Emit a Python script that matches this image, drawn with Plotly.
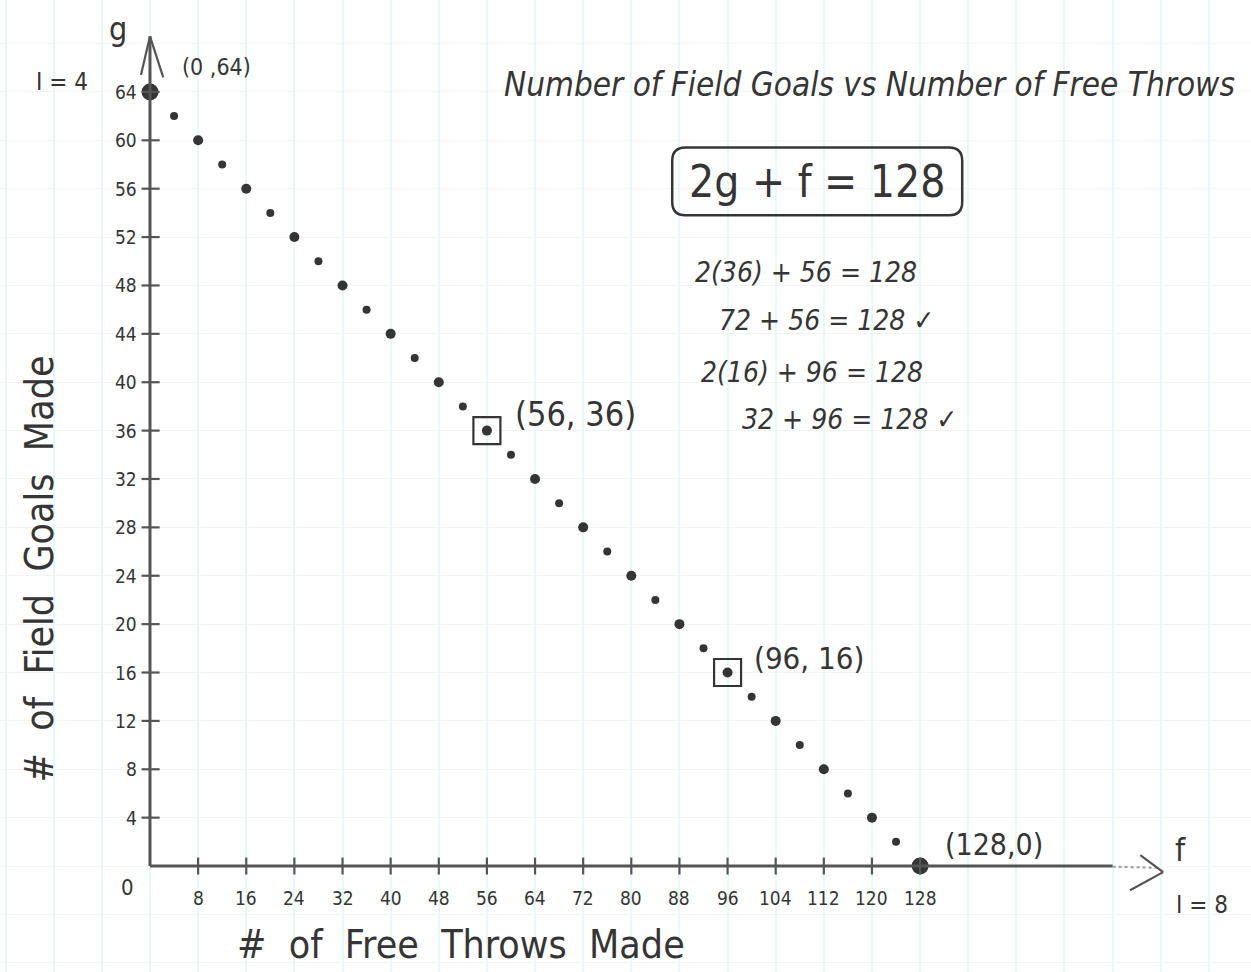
import plotly.graph_objects as go

# Free throws (f) and field goals (g) satisfying 2g + f = 128
free_throws = [0, 4, 8, 12, 16, 20, 24, 28, 32, 36, 40, 44, 48, 52, 56, 60, 64,
               68, 72, 76, 80, 84, 88, 92, 96, 100, 104, 108, 112, 116, 120, 124, 128]
field_goals = [64, 62, 60, 58, 56, 54, 52, 50, 48, 46, 44, 42, 40, 38, 36, 34, 32,
               30, 28, 26, 24, 22, 20, 18, 16, 14, 12, 10, 8, 6, 4, 2, 0]

# checked solutions, boxed on the graph
checked_f = [56, 96]
checked_g = [36, 16]

# intercepts
intercept_f = [0, 128]
intercept_g = [64, 0]

x_ticks = [8, 16, 24, 32, 40, 48, 56, 64, 72, 80, 88, 96, 104, 112, 120, 128]
y_ticks = [4, 8, 12, 16, 20, 24, 28, 32, 36, 40, 44, 48, 52, 56, 60, 64]
x_tick_labels = [str(v) for v in x_ticks]
y_tick_labels = [str(v) for v in y_ticks]

INK = "#353535"
AXIS_INK = "#555555"
FONT = "DejaVu Sans Condensed, Liberation Sans Narrow, DejaVu Sans, sans-serif"

X_RANGE = [-24.93, 183.0]
Y_RANGE = [-8.76, 71.6]

fig = go.Figure()

# small dots: larger on the multiples of 8
sizes = [10 if f % 8 == 0 else 8 for f in free_throws]
fig.add_trace(go.Scatter(
    x=free_throws, y=field_goals, mode="markers",
    marker=dict(color=INK, size=sizes, opacity=1, line=dict(width=0)),
    hoverinfo="x+y", showlegend=False))

fig.add_trace(go.Scatter(
    x=intercept_f, y=intercept_g, mode="markers",
    marker=dict(color=INK, size=17, opacity=1, line=dict(width=0)),
    showlegend=False))

fig.add_trace(go.Scatter(
    x=checked_f, y=checked_g, mode="markers",
    marker=dict(symbol="square-open", color=INK, size=27, opacity=1,
                line=dict(width=2.2, color=INK)),
    showlegend=False))

shapes = []

def seg(x0, y0, x1, y1, width=3, color=AXIS_INK, dash=None):
    d = dict(type="line", xref="x", yref="y", x0=x0, y0=y0, x1=x1, y1=y1,
             line=dict(color=color, width=width))
    if dash:
        d["line"]["dash"] = dash
    shapes.append(d)

# vertical axis with arrow head
seg(0, 0, 0, 68.6)
seg(-1.5, 65.4, 0, 68.6, width=2.2)
seg(0, 68.6, 2.2, 65.2, width=2.2)

# horizontal axis, fading toward the arrow head
seg(0, 0, 160, 0)
seg(160, -0.05, 167.5, -0.15, width=2, color="#9a9a9a", dash="dot")
seg(164.6, 0.9, 168.4, -0.5, width=2.2)
seg(168.4, -0.5, 162.9, -2.0, width=2.2)

# tick marks
for xv in x_ticks:
    seg(xv, -0.7, xv, 0.7, width=2.2)
for yv in y_ticks:
    seg(-1.4, yv, 1.6, yv, width=2.2)

# rounded box around the equation
bx0, bx1, by0, by1 = 86.8, 135.0, 53.8, 59.4
rx, ry = 2.2, 1.1
path = (f"M {bx0+rx},{by1} L {bx1-rx},{by1} Q {bx1},{by1} {bx1},{by1-ry} "
        f"L {bx1},{by0+ry} Q {bx1},{by0} {bx1-rx},{by0} "
        f"L {bx0+rx},{by0} Q {bx0},{by0} {bx0},{by0+ry} "
        f"L {bx0},{by1-ry} Q {bx0},{by1} {bx0+rx},{by1} Z")
shapes.append(dict(type="path", xref="x", yref="y", path=path,
                   line=dict(color=INK, width=2.5)))

annotations = []

def note(text, x, y, size, angle=0, xanchor="center", italic=False):
    annotations.append(dict(
        text=f"<i>{text}</i>" if italic else text, x=x, y=y, xref="x", yref="y",
        showarrow=False, textangle=angle, xanchor=xanchor, yanchor="middle",
        font=dict(family=FONT, size=size, color=INK)))

for xv, lab in zip(x_ticks, x_tick_labels):
    note(lab, xv, -2.65, 19)
for yv, lab in zip(y_ticks, y_tick_labels):
    note(lab, -1.9, yv, 19, xanchor="right")
note("0", -3.8, -1.8, 22)

note("g", -5.3, 69.2, 32)
note("I = 4", -14.6, 64.8, 24)
note("(0 ,64)", 11.0, 66.1, 23)
note("Number of Field Goals vs Number of Free Throws", 119.6, 64.6, 33, italic=True)
note("2g + f = 128", 110.9, 56.6, 44)
note("2(36) + 56 = 128", 109.0, 49.1, 28, italic=True)
note("72 + 56 = 128 ✓", 112.4, 45.1, 28, italic=True)
note("2(16) + 96 = 128", 110.0, 40.8, 28, italic=True)
note("32 + 96 = 128 ✓", 116.2, 36.9, 28, italic=True)
note("(56, 36)", 70.8, 37.4, 34)
note("(96, 16)", 109.5, 17.2, 31)
note("(128,0)", 140.3, 1.8, 30)
note("f", 171.2, 1.3, 32)
note("I = 8", 174.9, -3.2, 24)
note("#  of  Free  Throws  Made", 51.7, -6.5, 39)
note("#  of  Field  Goals  Made", -18.3, 24.6, 39, angle=-90)

fig.update_layout(
    width=1251, height=972,
    margin=dict(l=0, r=0, t=0, b=0, pad=0),
    paper_bgcolor="white", plot_bgcolor="white",
    shapes=shapes, annotations=annotations,
    xaxis=dict(range=X_RANGE, showticklabels=False, ticks="", showline=False,
               zeroline=False, showgrid=True, dtick=8, tick0=0,
               gridcolor="#e6f8f8", gridwidth=1.5, fixedrange=True),
    yaxis=dict(range=Y_RANGE, showticklabels=False, ticks="", showline=False,
               zeroline=False, showgrid=True, dtick=4, tick0=0,
               gridcolor="#f0f4f4", gridwidth=1.2, fixedrange=True),
)

fig.write_html("out.html")
